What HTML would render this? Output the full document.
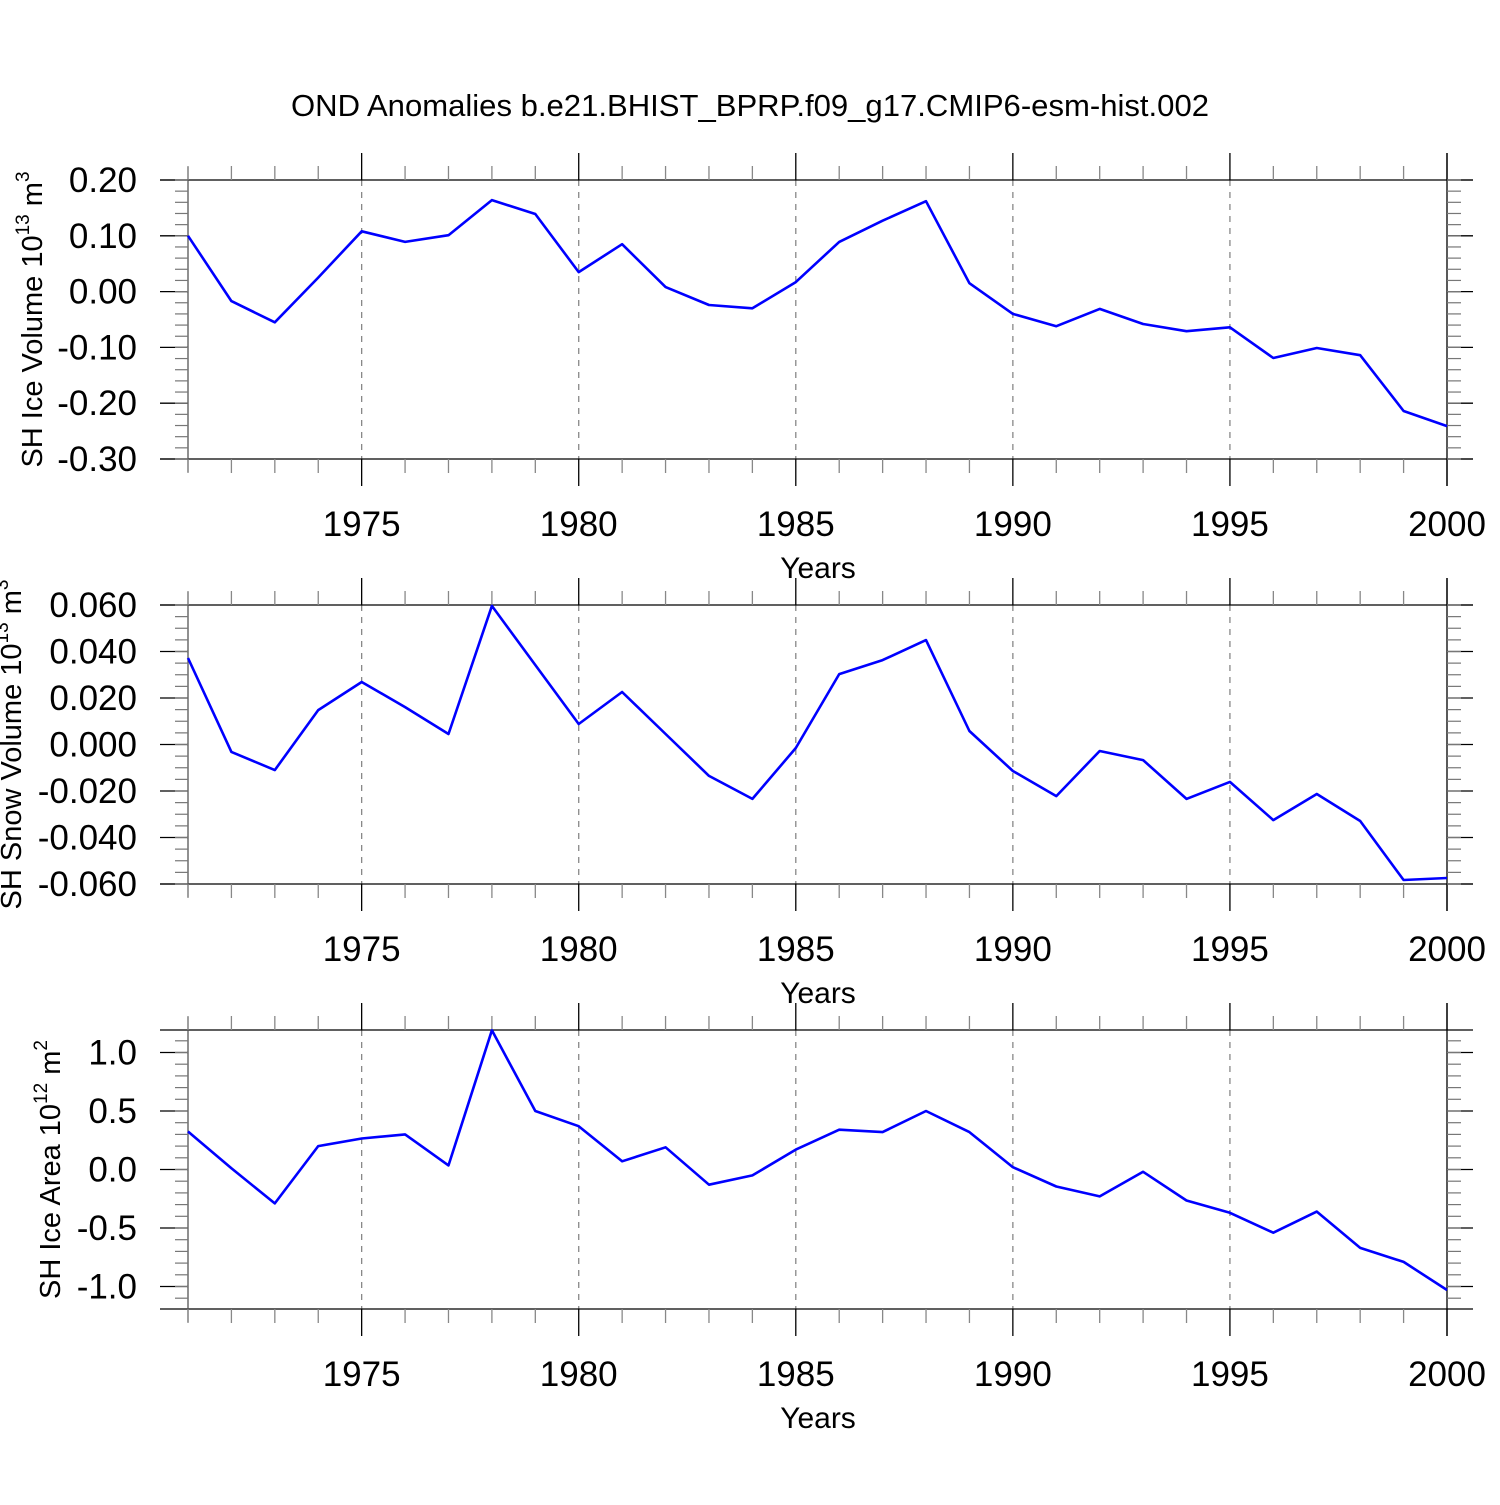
<!DOCTYPE html>
<html><head><meta charset="utf-8"><style>
body{margin:0;background:#fff}
svg text{font-family:"Liberation Sans",sans-serif;fill:#000}
</style></head><body>
<svg id="chart" width="1500" height="1500" xmlns="http://www.w3.org/2000/svg">
<text x="750" y="116" font-size="31" text-anchor="middle" textLength="918" lengthAdjust="spacingAndGlyphs">OND Anomalies b.e21.BHIST_BPRP.f09_g17.CMIP6-esm-hist.002</text>
</svg>
<script>
const years=[];for(let y=1971;y<=2000;y++)years.push(y);
const iceVolume=[0.100,-0.017,-0.055,0.025,0.108,0.089,0.101,0.164,0.139,0.035,0.085,0.008,-0.024,-0.030,0.017,0.089,0.127,0.162,0.015,-0.040,-0.062,-0.031,-0.058,-0.071,-0.064,-0.119,-0.101,-0.114,-0.214,-0.241];
const snowVolume=[0.0372,-0.0032,-0.011,0.0148,0.0269,0.0161,0.0045,0.0596,0.0342,0.0088,0.0226,0.0045,-0.0135,-0.0234,-0.0015,0.0303,0.0363,0.0449,0.0058,-0.0114,-0.0222,-0.0028,-0.0067,-0.0234,-0.0161,-0.0325,-0.0213,-0.0329,-0.0583,-0.0574];
const iceArea=[0.325,0.01,-0.29,0.20,0.265,0.30,0.035,1.19,0.50,0.37,0.07,0.19,-0.13,-0.05,0.17,0.34,0.32,0.50,0.32,0.02,-0.145,-0.23,-0.02,-0.265,-0.37,-0.54,-0.36,-0.67,-0.79,-1.03];
const iceVolumeTicks=["0.20","0.10","0.00","-0.10","-0.20","-0.30"];
const snowVolumeTicks=["0.060","0.040","0.020","0.000","-0.020","-0.040","-0.060"];
const iceAreaTicks=["1.0","0.5","0.0","-0.5","-1.0"];
const xTickYears=[1975,1980,1985,1990,1995,2000];

const svg=document.getElementById('chart');
const NS='http://www.w3.org/2000/svg';
function mk(tag,attrs,parent){const e=document.createElementNS(NS,tag);for(const k in attrs)e.setAttribute(k,attrs[k]);(parent||svg).appendChild(e);return e;}
const X0=188,X1=1447;
function xs(y){return X0+(y-1971)*(X1-X0)/29;}

function panel(name,top,vmin,vmax,data,ticks,minorStep,labelMain,sup,unitSup){
  const bot=top+279;
  const g=mk('g',{});
  
  
  const ys=v=>top+(vmax-v)/(vmax-vmin)*279;
  for(const yr of [1975,1980,1985,1990,1995]){
    const l=mk('line',{x1:xs(yr),x2:xs(yr),y1:top,y2:bot,stroke:'#888','stroke-width':1.3,'stroke-dasharray':'6,6'},g);
    
    
  }
  mk('line',{x1:160,x2:1473,y1:top,y2:top,stroke:'#000','stroke-width':1.3},g);
  mk('line',{x1:160,x2:1473,y1:bot,y2:bot,stroke:'#000','stroke-width':1.3},g);
  mk('line',{x1:X0,x2:X0,y1:top-13,y2:bot+13,stroke:'#555','stroke-width':1.3},g);
  mk('line',{x1:X1,x2:X1,y1:top-27,y2:bot+27,stroke:'#000','stroke-width':1.3},g);
  for(const yr of years){
    const major=yr%5===0;const len=major?27:14;
    mk('line',{x1:xs(yr),x2:xs(yr),y1:top-len,y2:top,stroke:major?'#000':'#888','stroke-width':1.3},g);
    mk('line',{x1:xs(yr),x2:xs(yr),y1:bot,y2:bot+len,stroke:major?'#000':'#888','stroke-width':1.3},g);
  }
  for(const yr of xTickYears){
    const t=mk('text',{x:xs(yr),y:bot+77,'font-size':35,'text-anchor':'middle'},g);
    t.textContent=yr;
    
    
  }
  const xt=mk('text',{x:818,y:bot+119,'font-size':30,'text-anchor':'middle'},g);
  xt.textContent='Years';
  
  
  for(const lab of ticks){
    const v=parseFloat(lab);const y=ys(v);
    mk('line',{x1:160,x2:X0,y1:y,y2:y,stroke:'#000','stroke-width':1.3},g);
    mk('line',{x1:X1,x2:1473,y1:y,y2:y,stroke:'#000','stroke-width':1.3},g);
    const t=mk('text',{x:137,y:y+12,'font-size':35,'text-anchor':'end'},g);
    t.textContent=lab;
    
    
  }
  const first=Math.ceil(vmin/minorStep-1e-6);
  for(let k=first;k*minorStep<=vmax+1e-9;k++){
    const v=k*minorStep;const y=ys(v);
    if(y<top-0.5||y>bot+0.5)continue;
    mk('line',{x1:175,x2:X0,y1:y,y2:y,stroke:'#777','stroke-width':1.2},g);
    mk('line',{x1:X1,x2:1461,y1:y,y2:y,stroke:'#777','stroke-width':1.2},g);
  }
  const cy=(top+bot)/2;
  const yt=mk('text',{transform:`translate(${labelMain.x},${cy}) rotate(-90)`,'font-size':29,'text-anchor':'middle'},g);
  
  
  yt.innerHTML=labelMain.text+' 10<tspan dy="-13" font-size="19">'+sup+'</tspan><tspan dy="13"> m</tspan><tspan dy="-13" font-size="19">'+unitSup+'</tspan>';
  let d='';
  data.forEach((v,i)=>{d+=(i?'L':'M')+xs(years[i]).toFixed(1)+','+ys(v).toFixed(1);});
  const p=mk('path',{d:d,fill:'none',stroke:'#0000ff','stroke-width':2.6,'stroke-linejoin':'round'},g);
  
  
}
panel('ice-volume',180,-0.30,0.20,iceVolume,iceVolumeTicks,0.02,{x:42,text:'SH Ice Volume'},'13','3');
panel('snow-volume',605,-0.060,0.060,snowVolume,snowVolumeTicks,0.005,{x:21,text:'SH Snow Volume'},'13','3');
panel('ice-area',1030,-1.1923,1.1923,iceArea,iceAreaTicks,0.1,{x:60,text:'SH Ice Area'},'12','2');
</script>
</body></html>
